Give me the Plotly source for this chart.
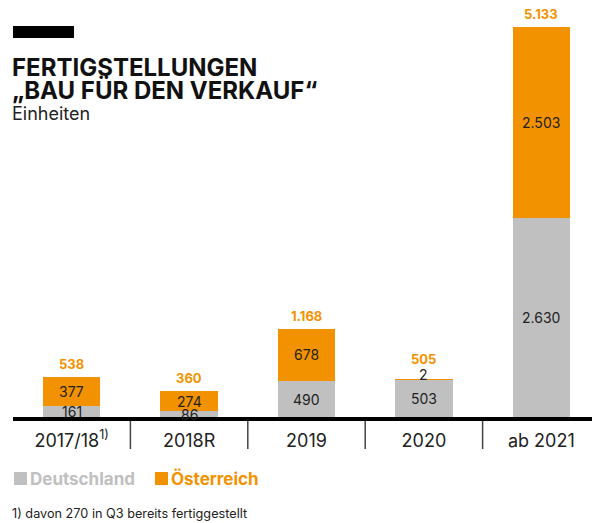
import plotly.graph_objects as go

categories = ["2017/18<sup>1)</sup>", "2018R", "2019", "2020", "ab 2021"]
deutschland = [161, 86, 490, 503, 2630]
oesterreich = [377, 274, 678, 2, 2503]
totals = [538, 360, 1168, 505, 5133]
series_names = ["Deutschland", "Österreich"]

GREY = "#C0C0C0"
ORANGE = "#F39200"
FONT = "Inter, Lato, sans-serif"

# the page body has an 8px margin, so the figure is drawn 8px smaller
OFF = 8
W, H = 600 - OFF, 523 - OFF
BASE = 418          # baseline in reference pixels
LEFT = 13           # plot left edge in reference pixels
PLOT_H = BASE - OFF
PLOT_W = 600 - LEFT


def de_fmt(v):
    return f"{v:,}".replace(",", ".")


def py(pix):
    return (BASE - pix) / PLOT_H


def px_(pix):
    return (pix - LEFT) / PLOT_W


fig = go.Figure()
fig.add_trace(go.Bar(x=categories, y=deutschland, name=series_names[0],
                     marker=dict(color=GREY, line=dict(width=0)), width=0.49, hoverinfo="skip"))
fig.add_trace(go.Bar(x=categories, y=oesterreich, name=series_names[1],
                     marker=dict(color=ORANGE, line=dict(width=0)), width=0.49, hoverinfo="skip"))

anns = []
for i, (d, o, t) in enumerate(zip(deutschland, oesterreich, totals)):
    tiny = o < 50
    anns.append(dict(x=i, y=d / 2, text=de_fmt(d), showarrow=False, yanchor="middle",
                     font=dict(size=14, color="#222")))
    # tiny segments get their label lifted above the bar top, and the total above that
    anns.append(dict(x=i, y=d + o / 2, text=de_fmt(o), showarrow=False, yanchor="middle",
                     yshift=5 if tiny else 0, font=dict(size=14, color="#222")))
    anns.append(dict(x=i, y=t, text=f"<b>{de_fmt(t)}</b>", showarrow=False, yanchor="middle",
                     yshift=21 if tiny else 13, font=dict(size=13, color=ORANGE)))

# title block and footnote
anns += [
    dict(xref="paper", yref="paper", x=px_(13), y=py(67), xanchor="left", yanchor="middle", xshift=-3,
         text="<b>FERTIGSTELLUNGEN</b>", showarrow=False, font=dict(size=24, color="#111")),
    dict(xref="paper", yref="paper", x=px_(13), y=py(90), xanchor="left", yanchor="middle", xshift=-3,
         text="<b>„BAU FÜR DEN VERKAUF“</b>", showarrow=False, font=dict(size=24, color="#111")),
    dict(xref="paper", yref="paper", x=px_(13), y=py(113), xanchor="left", yanchor="middle", xshift=-3,
         text="Einheiten", showarrow=False, font=dict(size=18, color="#222")),
    dict(xref="paper", yref="paper", x=px_(13), y=py(513), xanchor="left", yanchor="middle", xshift=-3,
         text="1) davon 270 in Q3 bereits fertiggestellt", showarrow=False, font=dict(size=12.7, color="#222")),
]

shapes = [
    dict(type="rect", xref="paper", yref="paper", x0=px_(13), x1=px_(74), y0=py(26), y1=py(38),
         fillcolor="#000", line=dict(width=0)),
    dict(type="line", xref="paper", yref="paper", x0=0, x1=1, y0=py(419), y1=py(419),
         line=dict(color="#000", width=4)),
]
for i in range(1, len(categories)):
    shapes.append(dict(type="line", xref="x", yref="paper", x0=i - 0.5, x1=i - 0.5,
                       y0=py(421), y1=py(449), line=dict(color="#444", width=1.5)))

# legend drawn by hand: coloured square and coloured bold label
for name, col, x0 in zip(series_names, [GREY, ORANGE], [14, 155]):
    shapes.append(dict(type="rect", xref="paper", yref="paper", x0=px_(x0), x1=px_(x0 + 13),
                       y0=py(472), y1=py(485), fillcolor=col, line=dict(width=0)))
    anns.append(dict(xref="paper", yref="paper", x=px_(x0 + 17), y=py(479), xanchor="left",
                     yanchor="middle", xshift=-3, text=f"<b>{name}</b>", showarrow=False,
                     font=dict(size=17, color=col)))

fig.update_layout(
    width=W, height=H,
    barmode="stack",
    showlegend=False,
    margin=dict(l=LEFT - OFF, r=0, t=0, b=H - PLOT_H),
    plot_bgcolor="white", paper_bgcolor="white",
    font=dict(family=FONT),
    xaxis=dict(type="category", range=[-0.5, len(categories) - 0.5], showgrid=False, showline=False,
               ticks="outside", ticklen=6, tickcolor="rgba(0,0,0,0)", tickfont=dict(size=18, color="#222")),
    yaxis=dict(range=[0, 5133 * PLOT_H / 391], visible=False),
    annotations=anns,
    shapes=shapes,
)

fig.write_html("out.html")
